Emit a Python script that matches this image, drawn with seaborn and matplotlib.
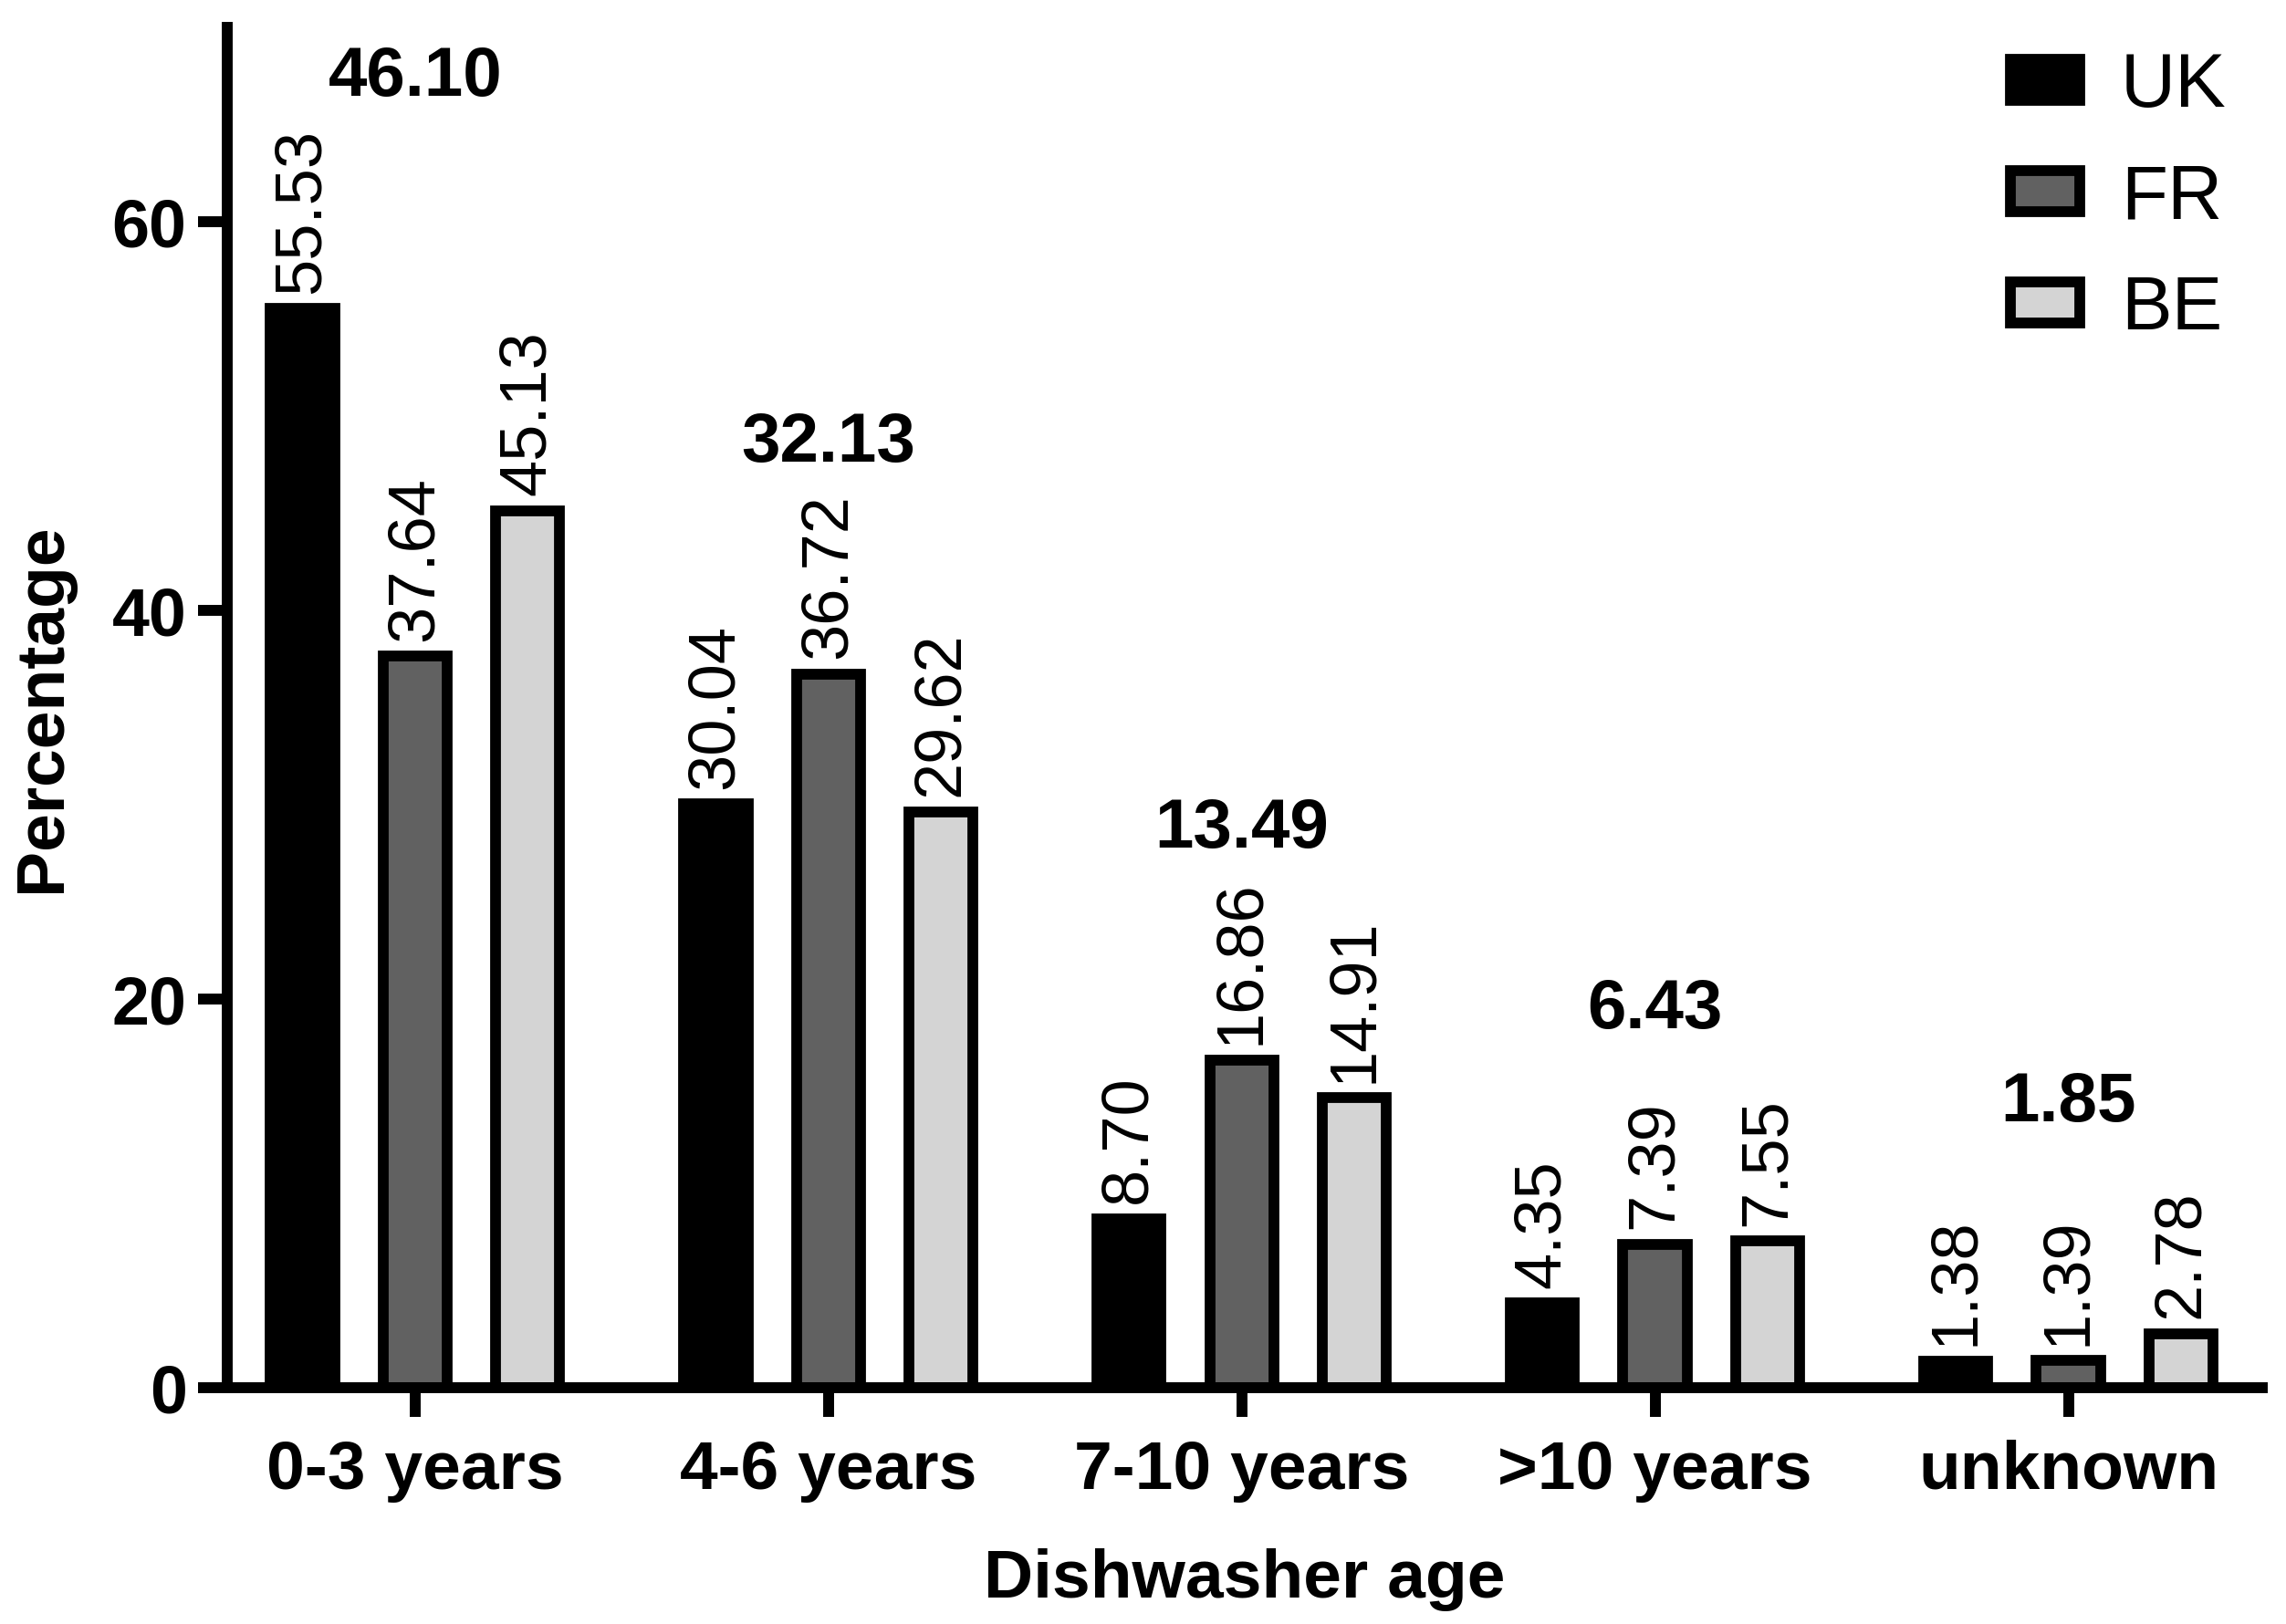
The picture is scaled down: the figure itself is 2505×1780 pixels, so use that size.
import pandas as pd
import matplotlib.pyplot as plt
import seaborn as sns

ages = ["0-3 years", "4-6 years", "7-10 years", ">10 years", "unknown"]
countries = ["UK", "FR", "BE"]
uk = [55.53, 30.04, 8.70, 4.35, 1.38]
fr = [37.64, 36.72, 16.86, 7.39, 1.39]
be = [45.13, 29.62, 14.91, 7.55, 2.78]
totals = [46.10, 32.13, 13.49, 6.43, 1.85]
yticks = [0, 20, 40, 60]

df = pd.DataFrame({
    "age": ages * 3,
    "country": ["UK"] * 5 + ["FR"] * 5 + ["BE"] * 5,
    "pct": uk + fr + be,
})

sns.set_style("ticks", rc={"axes.edgecolor": "black", "text.color": "black",
                           "axes.labelcolor": "black", "xtick.color": "black",
                           "ytick.color": "black"})
plt.rcParams["font.family"] = ["Liberation Sans", "DejaVu Sans"]

fig = plt.figure(figsize=(25.05, 17.8), dpi=100)
ax = fig.add_axes([0.0994, 0.1455, 0.8902, 0.8376])

sns.barplot(data=df, x="age", y="pct", hue="country", order=ages, hue_order=countries,
            palette=["black", "#616161", "#d4d4d4"], edgecolor="black", linewidth=8.5,
            width=0.8175, gap=0.43, errorbar=None, legend=False, ax=ax)

for cont in ax.containers:
    ax.bar_label(cont, fmt="%.2f", rotation=90, padding=12, fontsize=52)

# group totals above the tallest bar of each group
group_max = df.groupby("age")["pct"].max()
for i, age in enumerate(ages):
    ax.annotate(f"{totals[i]:.2f}", xy=(i, group_max[age]), xytext=(0, 182),
                textcoords="offset points", ha="center", va="center",
                fontsize=55, fontweight="bold")

ax.set_ylim(0, 70)
ax.set_xlim(-0.4546, 4.469)
ax.set_yticks(yticks)
sns.despine(ax=ax)
for s in ["left", "bottom"]:
    ax.spines[s].set_linewidth(8.6)
ax.tick_params(length=23, width=8.6, labelsize=53)
ax.tick_params(axis="x", pad=18, labelsize=54)
ax.tick_params(axis="y", pad=9)
for lab in ax.get_xticklabels() + ax.get_yticklabels():
    lab.set_fontweight("bold")

ax.set_xlabel("Dishwasher age", fontsize=54, fontweight="bold", labelpad=36)
ax.set_ylabel("Percentage", fontsize=54, fontweight="bold", labelpad=30)

ax.legend(ax.containers, countries, loc="upper left",
          bbox_to_anchor=(0.8795, 0.9685), bbox_transform=fig.transFigure,
          frameon=False, fontsize=60, borderpad=0, borderaxespad=0,
          handlelength=0.91, handleheight=0.456, handletextpad=0.54, labelspacing=0.53)

fig.savefig("out.png", dpi=100)
